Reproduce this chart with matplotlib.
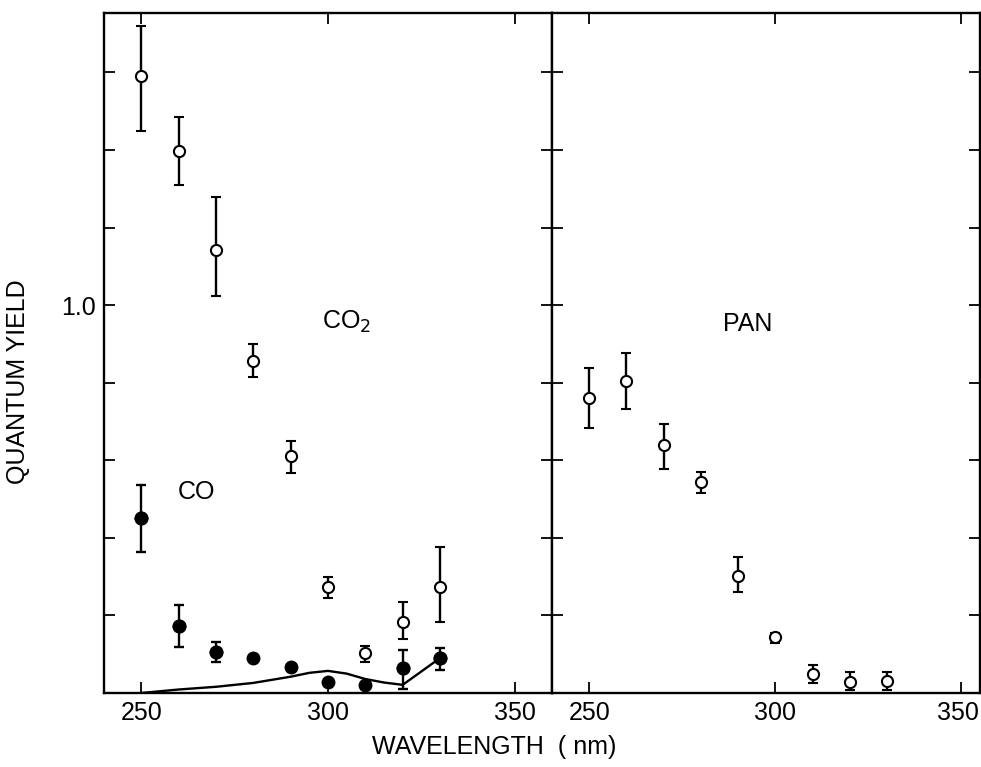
import matplotlib
matplotlib.use("Agg")
import matplotlib.pyplot as plt
import matplotlib.transforms as mtransforms
import numpy as np

plt.rcParams['font.family'] = ['Liberation Sans', 'DejaVu Sans']

# CO2 quantum yields (open circles, left panel)
wl = [250, 260, 270, 280, 290, 300, 310, 320, 330]
co2 = [1.59, 1.397, 1.142, 0.856, 0.611, 0.273, 0.103, 0.183, 0.273]
co2_hi = [1.72, 1.485, 1.278, 0.90, 0.649, 0.299, 0.121, 0.235, 0.376]
co2_lo = [1.45, 1.31, 1.023, 0.814, 0.567, 0.245, 0.080, 0.139, 0.183]

# CO quantum yields (filled circles, left panel); None = no error bar
co = [0.451, 0.173, 0.106, 0.090, 0.067, 0.028, 0.021, 0.064, 0.090]
co_hi = [0.536, 0.227, 0.131, None, None, None, None, 0.111, 0.116]
co_lo = [0.363, 0.119, 0.080, None, None, None, None, 0.010, 0.059]

# solid curve in left panel
curve_wl = [250, 260, 270, 280, 290, 295, 300, 305, 310, 315, 320, 330]
curve_y = [0.0, 0.009, 0.016, 0.026, 0.042, 0.052, 0.057, 0.050, 0.036, 0.027, 0.021, 0.090]

# PAN quantum yields (open circles, right panel)
pan = [0.760, 0.804, 0.639, 0.544, 0.302, 0.144, 0.049, 0.028, 0.031]
pan_hi = [0.838, 0.876, 0.693, 0.570, 0.350, 0.155, 0.072, 0.054, 0.054]
pan_lo = [0.683, 0.732, 0.577, 0.515, 0.260, 0.129, 0.026, 0.008, 0.008]

fig = plt.figure(figsize=(9.81, 7.67), dpi=100)
W, H = 981, 767
ax1 = fig.add_axes([104 / W, (H - 693) / H, (552 - 104) / W, (693 - 13) / H])
ax2 = fig.add_axes([552 / W, (H - 693) / H, (980 - 552) / W, (693 - 13) / H])


def errs(v, hi, lo):
    up = [0 if h is None else h - y for y, h in zip(v, hi)]
    dn = [0 if l is None else y - l for y, l in zip(v, lo)]
    return [dn, up]


eb = dict(fmt='o', color='black', ecolor='black', elinewidth=1.7, capsize=3.5, capthick=1.7)

ax1.plot(curve_wl, curve_y, color='black', lw=1.7)
ax1.errorbar(wl, co2, yerr=errs(co2, co2_hi, co2_lo), ms=8, mfc='white', mec='black', mew=1.5, **eb)
co_has = [h is not None for h in co_hi]
co_wl = [w for w, k in zip(wl, co_has) if k]
co_v = [c for c, k in zip(co, co_has) if k]
ax1.errorbar(co_wl, co_v,
             yerr=errs(co_v, [h for h in co_hi if h is not None], [l for l in co_lo if l is not None]),
             ms=9, mfc='black', mec='black', **eb)
ax1.plot(wl, co, 'o', color='black', ms=9)

ax2.errorbar(wl, pan, yerr=errs(pan, pan_hi, pan_lo), ms=8, mfc='white', mec='black', mew=1.5, **eb)

yt = np.arange(0, 1.7, 0.2)
ax1.set_xlim(240, 360)
ax2.set_xlim(240, 355)
for ax in (ax1, ax2):
    ax.set_ylim(0, 1.753)
    ax.set_xticks([250, 300, 350])
    ax.set_yticks(yt)
    ax.tick_params(direction='in', length=8, width=1.3, top=True, right=True,
                   labelsize=18, pad=6)
    for s in ax.spines.values():
        s.set_linewidth(1.7)
ax1.set_yticklabels(['1.0' if abs(t - 1.0) < 1e-6 else '' for t in yt])
ax2.set_yticklabels([])

# nudge the last right-panel label so it stays inside the figure
shift = mtransforms.ScaledTranslation(-3 / 100, 0, fig.dpi_scale_trans)
lab = ax2.get_xticklabels()[-1]
lab.set_transform(lab.get_transform() + shift)

ax1.text(305, 0.956, 'CO$_2$', fontsize=18, ha='center', va='center')
ax1.text(264.7, 0.518, 'CO', fontsize=18, ha='center', va='center')
ax2.text(292.7, 0.951, 'PAN', fontsize=18, ha='center', va='center')

fig.text(18 / W, 1 - 382 / H, 'QUANTUM YIELD', rotation=90, fontsize=18, ha='center', va='center')
fig.text(494 / W, 1 - 747 / H, 'WAVELENGTH  ( nm)', fontsize=18, ha='center', va='center')

fig.savefig('out.png', dpi=100)
